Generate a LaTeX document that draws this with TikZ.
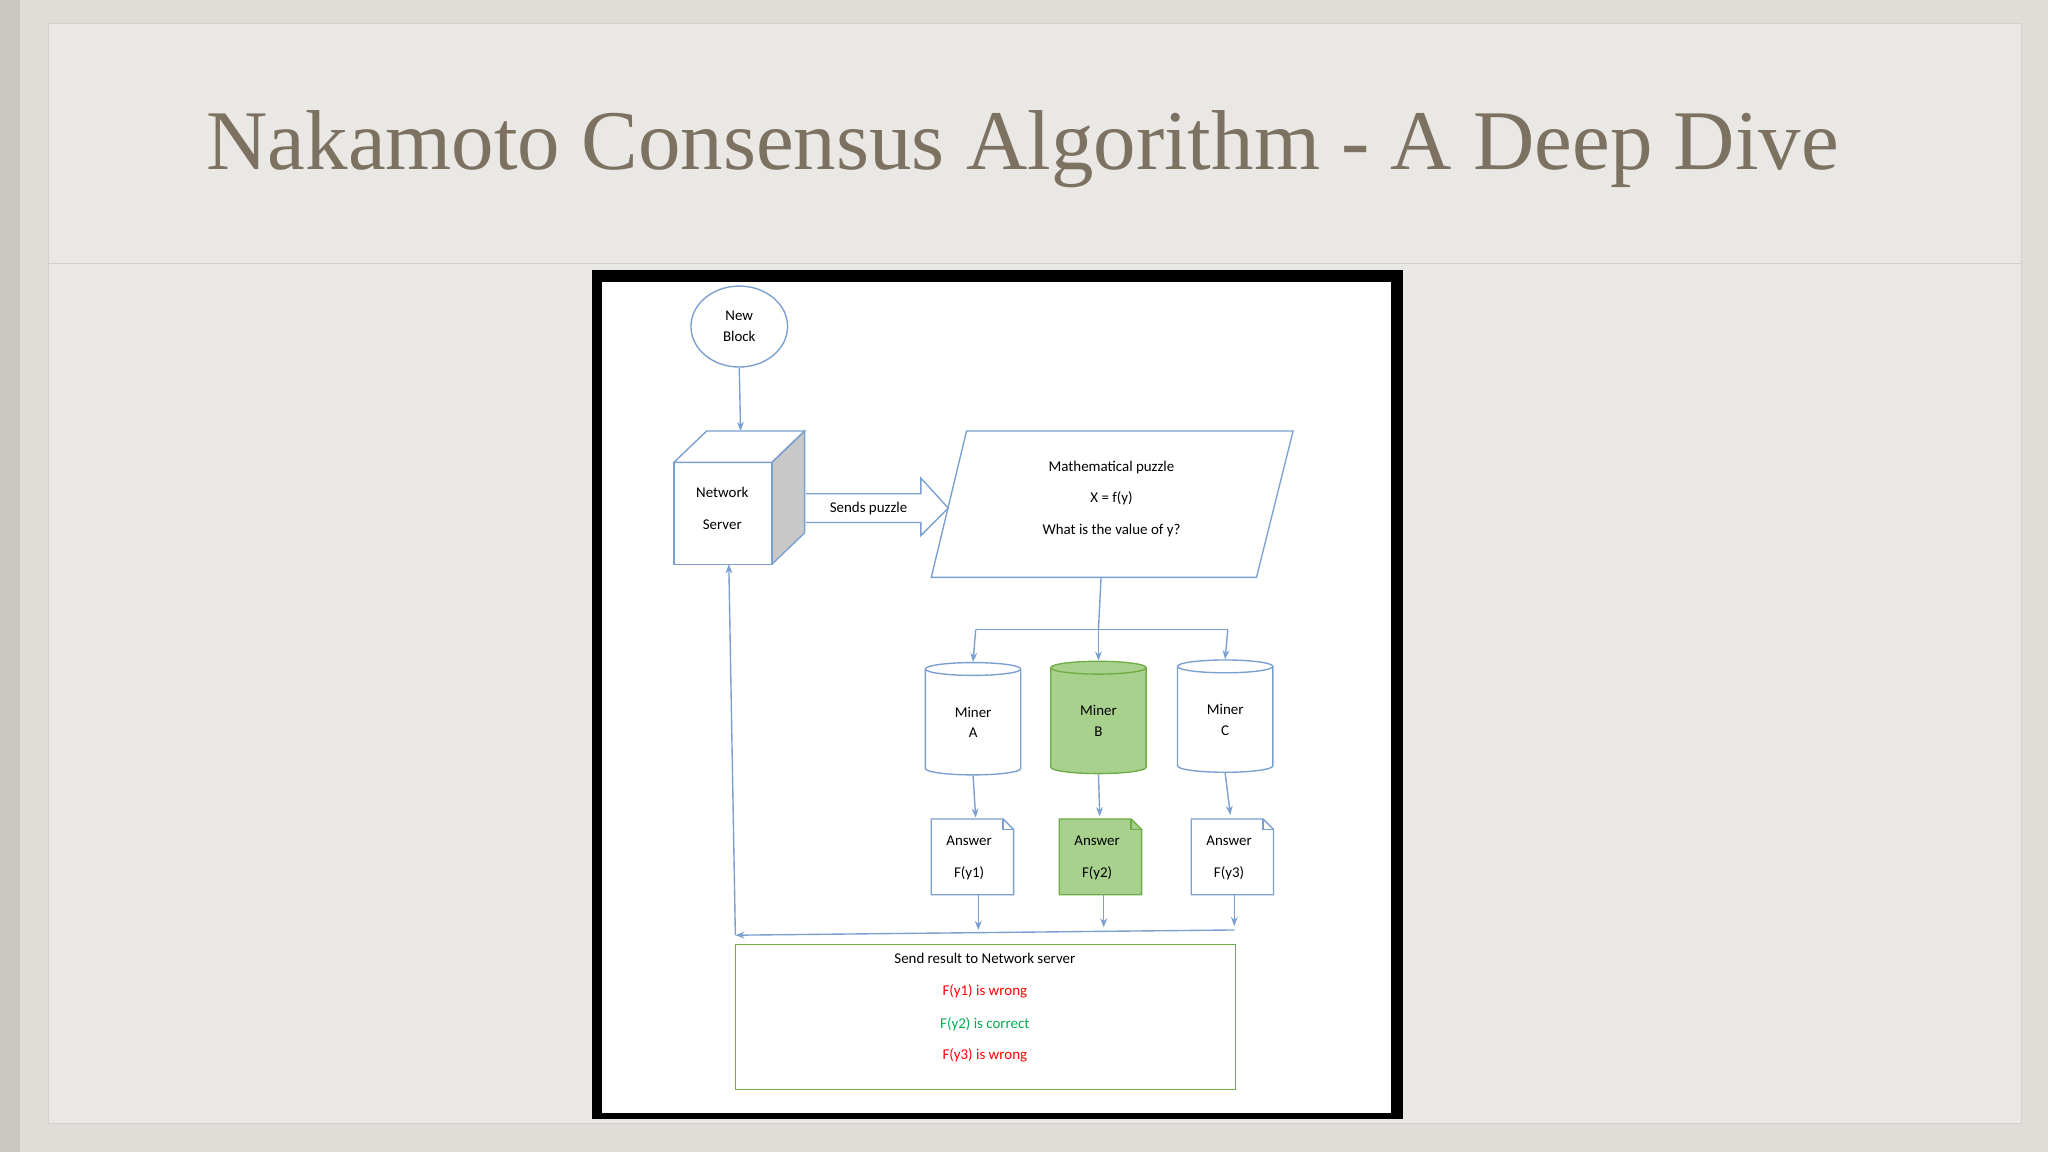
\documentclass[tikz,border=0pt]{standalone}
\usepackage{fontspec}
\setmainfont{Carlito}
\newfontfamily\titlefont{Liberation Serif}
\usetikzlibrary{shapes.geometric,arrows.meta}
\definecolor{bl}{HTML}{7BA0D0}
\definecolor{gf}{HTML}{A9D18E}
\definecolor{gs}{HTML}{70AD47}
\definecolor{tt}{HTML}{7D7262}
\tikzset{
 ln/.style={draw=bl,line width=0.6pt},
 arr/.style={ln,-{Stealth[length=4pt,width=3pt]}},
 txt/.style={font=\fontsize{6.5}{8}\selectfont,inner sep=0pt},
 cyl/.style={cylinder,shape border rotate=90,aspect=0.35,draw=bl,line width=0.6pt,minimum width=1.46cm,minimum height=1.72cm,inner sep=0pt,fill=white,align=center,font=\fontsize{6.5}{9}\selectfont},
}
\begin{document}
\begin{tikzpicture}[x=0.02cm,y=-0.02cm]
\useasboundingbox (0,0) rectangle (1568,882);
\fill[color={rgb,255:red,222;green,221;blue,216}] (0,0) rectangle (1568,882);
\fill[color={rgb,255:red,200;green,199;blue,194}] (0,0) rectangle (15,882);
\fill[color={rgb,255:red,233;green,232;blue,228}] (37,18) rectangle (1548,860);
\draw[color={rgb,255:red,210;green,209;blue,205},line width=0.5pt] (37,18) rectangle (1548,860);
\draw[color={rgb,255:red,210;green,209;blue,205},line width=0.5pt] (37,202) -- (1548,202);
\node[text=tt,inner sep=0pt] (title) at (783,114) {\resizebox{25cm}{!}{\titlefont Nakamoto Consensus Algorithm - A Deep Dive}};
% frame
\fill[black] (453,207) rectangle (1074,857);
\fill[white] (461,216) rectangle (1065,852);
% new block
\node[ellipse,draw=bl,line width=0.6pt,minimum width=1.48cm,minimum height=1.24cm,align=center,txt] (nb) at (566,250) {New\\[1pt]Block};
% cube
\fill[color={rgb,255:red,200;green,200;blue,200}] (591,354) -- (616,330) -- (616,408) -- (591,432) -- cycle;
\draw[ln] (516,354) -- (541,330) -- (616,330) -- (591,354) -- cycle;
\draw[ln] (591,354) -- (616,330) -- (616,408) -- (591,432);
\draw[ln] (516,354) rectangle (591,432);
\node[txt,align=center] (ns) at (553,389) {Network\\[6pt]Server};
\coordinate (nstop) at (567,330);
\coordinate (nsbot) at (558,432);
\draw[arr] (nb.south) -- (nstop);
% block arrow
\draw[ln] (617,378) -- (705,378) -- (705,366) -- (726,389) -- (705,410) -- (705,400) -- (617,400);
\node[txt] (sp) at (665,389) {Sends puzzle};
% parallelogram
\draw[ln] (740,330) -- (990,330) -- (962,442) -- (713,442) -- cycle;
\node[txt,align=center] (mp) at (851,382) {Mathematical puzzle\\[5.6pt]X = f(y)\\[5.6pt]What is the value of y?};
\coordinate (mpb) at (843,442);
\coordinate (sp1) at (841,482);
\coordinate (spa) at (747,482);
\coordinate (spc) at (940,482);
% cylinders
\node[cyl] (ma) at (745,553) {Miner\\A};
\node[cyl,fill=gf,draw=gs] (mb) at (841,552) {Miner\\B};
\node[cyl] (mc) at (938,551) {Miner\\C};
\draw[ln] (mpb) -- (sp1);
\draw[ln] (spa) -- (spc);
\draw[arr] (spa) -- (ma.top);
\draw[arr] (sp1) -- (mb.top);
\draw[arr] (spc) -- (mc.top);
% documents
\foreach \n/\x/\c/\f/\s in {a/713/1/white/bl, b/811/2/gf/gs, c/912/3/white/bl}{
  \draw[draw=\s,fill=\f,line width=0.6pt] (\x,627) -- (\x+55,627) -- (\x+63,635) -- (\x+63,685) -- (\x,685) -- cycle;
  \draw[draw=\s,line width=0.6pt] (\x+55,627) -- (\x+55,635) -- (\x+63,635);
  \node[txt,align=center] (d\n) at (\x+29,657) {Answer\\[6pt]F(y\c)};
}
\draw[arr] (ma.bottom) -- (747,626);
\draw[arr] (mb.bottom) -- (842,625);
\draw[arr] (mc.bottom) -- (942,624);
\draw[arr] (749,685) -- (749,712);
\draw[arr] (845,685) -- (845,710);
\draw[arr] (945,685) -- (945,709);
\coordinate (rr) at (945,712);
\coordinate (rl) at (563,716);
\draw[arr] (rr) -- (rl);
\draw[arr] (rl) -- (nsbot);
% result
\draw[draw=gs,line width=0.6pt] (563,723) rectangle (946,834);
\node[txt] (r0) at (754,734) {Send result to Network server};
\node[txt,text=red] (r1) at (754,759) {F(y1) is wrong};
\node[txt,text={rgb,255:red,0;green,176;blue,80}] (r2) at (754,784) {F(y2) is correct};
\node[txt,text=red] (r3) at (754,808) {F(y3) is wrong};
\end{tikzpicture}
\end{document}
